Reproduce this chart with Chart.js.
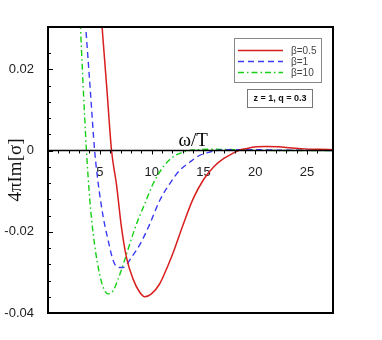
<!DOCTYPE html>
<html lang="en">
<head>
    <meta charset="UTF-8">
    <title>4πIm[σ] vs ω/T</title>
    <script src="https://cdn.jsdelivr.net/npm/chart.js"></script>
    <style>
        body { margin: 0; background: #fff; }
    </style>
</head>
<body>
    <canvas id="myChart" width="382" height="340"></canvas>

    <script>
        // values (omega/T, 4*pi*Im[sigma])
        const labels = ['β=0.5', 'β=1', 'β=10'];
        const colors = ['#d81f1f', '#3b3bf5', '#16d016'];

        const redW = [5.0, 5.23, 5.7, 6.13, 6.6, 7.09, 7.57, 8.2, 8.85, 9.34, 9.98, 10.78, 11.58, 12.2, 13.0, 14.0, 15.0, 16.0, 17.0, 17.7, 18.4, 19.2, 20.1, 21.0, 22.2, 23.3, 24.8, 26.2, 27.5];
        const redV = [0.0375, 0.030, 0.0145, 0, -0.0082, -0.0189, -0.0263, -0.0316, -0.0349, -0.0360, -0.0353, -0.0328, -0.0283, -0.0243, -0.0185, -0.0119, -0.0072, -0.0040, -0.0019, -0.0009, 0, 0.0005, 0.0009, 0.0010, 0.0009, 0.0007, 0.0004, 0.0003, 0.0002];

        const blueW = [3.4, 3.65, 4.05, 4.5, 4.85, 5.33, 5.81, 6.29, 6.77, 7.25, 8.05, 8.9, 9.82, 10.78, 11.74, 12.7, 13.67, 14.63, 15.6, 16.5, 18, 20, 22, 24, 27.5];
        const blueV = [0.039, 0.030, 0.016, 0, -0.0082, -0.0164, -0.0222, -0.0271, -0.0288, -0.0288, -0.0263, -0.0230, -0.0181, -0.0123, -0.0082, -0.0049, -0.0029, -0.0012, -0.0004, 0.0001, 0.0002, 0.0002, 0.0001, 0.0001, 0];

        const greenW = [3.0, 3.14, 3.39, 3.71, 4.04, 4.36, 4.85, 5.33, 5.81, 6.29, 6.77, 7.42, 7.89, 8.54, 9.34, 10.14, 11.1, 12.06, 13.03, 14.3, 16, 18, 20, 23, 27.5];
        const greenV = [0.038, 0.030, 0.016, 0, -0.0123, -0.0205, -0.0288, -0.0337, -0.0353, -0.0345, -0.0316, -0.0268, -0.0230, -0.0181, -0.0131, -0.0082, -0.0041, -0.0016, -0.0004, 0.0002, 0.0003, 0.0002, 0.0001, 0, 0];

        const noteText = 'z = 1, q = 0.3';
        const xTitle = 'ω/T';
        const yTitle = '4πIm[σ]';

        function pts(w, v) {
            return w.map((x, i) => ({ x: x, y: v[i] }));
        }

        // frame, inward ticks, zero line, x title, legend and note box
        const decorations = {
            id: 'decorations',
            afterDatasetsDraw(chart) {
                const ctx = chart.ctx;
                const a = chart.chartArea;
                const xs = chart.scales.x;
                const ys = chart.scales.y;
                const y0 = ys.getPixelForValue(0);
                ctx.save();
                ctx.strokeStyle = '#000';

                // y ticks (inside)
                ctx.lineWidth = 1;
                ys.ticks.forEach(t => {
                    if (t.value >= ys.max - 1e-9) return;
                    const p = Math.round(ys.getPixelForValue(t.value)) + 0.5;
                    const major = Math.abs(t.value / 0.02 - Math.round(t.value / 0.02)) < 1e-6;
                    ctx.beginPath();
                    ctx.moveTo(a.left, p);
                    ctx.lineTo(a.left + (major ? 5 : 3), p);
                    ctx.stroke();
                });
                // x ticks below zero line
                xs.ticks.forEach(t => {
                    if (t.value <= 0 || t.value >= xs.max - 1e-9) return;
                    const p = Math.round(xs.getPixelForValue(t.value)) + 0.5;
                    const major = t.value % 5 === 0;
                    ctx.beginPath();
                    ctx.moveTo(p, y0);
                    ctx.lineTo(p, y0 + (major ? 4 : 3));
                    ctx.stroke();
                });

                // zero line
                ctx.lineWidth = 1.5;
                ctx.beginPath();
                ctx.moveTo(a.left, y0);
                ctx.lineTo(a.right, y0);
                ctx.stroke();

                // frame
                ctx.lineWidth = 2;
                ctx.strokeRect(a.left, a.top, a.right - a.left, a.bottom - a.top);

                // x title above the zero line
                ctx.fillStyle = '#000';
                ctx.font = '19px "Liberation Serif"';
                ctx.textAlign = 'center';
                ctx.textBaseline = 'alphabetic';
                ctx.fillText(xTitle, xs.getPixelForValue(14), y0 - 5);

                // legend box
                const lx = a.right - 99, ly = a.top + 11, lw = 87, lh = 44;
                ctx.fillStyle = '#fff';
                ctx.fillRect(lx, ly, lw, lh);
                ctx.strokeStyle = '#888';
                ctx.lineWidth = 1;
                ctx.strokeRect(lx + 0.5, ly + 0.5, lw, lh);
                ctx.font = '10px "Liberation Sans"';
                ctx.textAlign = 'left';
                ctx.textBaseline = 'middle';
                chart.data.datasets.forEach((ds, i) => {
                    const yy = ly + 12.5 + i * 11;
                    ctx.strokeStyle = ds.borderColor;
                    ctx.lineWidth = 1.3;
                    ctx.setLineDash(ds.borderDash || []);
                    ctx.beginPath();
                    ctx.moveTo(lx + 4, yy);
                    ctx.lineTo(lx + 49, yy);
                    ctx.stroke();
                    ctx.setLineDash([]);
                    ctx.fillStyle = '#444';
                    ctx.fillText(ds.label, lx + 57, yy + 0.5);
                });

                // note box
                const nx = a.right - 86, ny = a.top + 62, nw = 65, nh = 18;
                ctx.strokeStyle = '#777';
                ctx.lineWidth = 1;
                ctx.strokeRect(nx + 0.5, ny + 0.5, nw, nh);
                ctx.fillStyle = '#111';
                ctx.font = 'bold 9px "Liberation Sans"';
                ctx.textAlign = 'center';
                ctx.fillText(noteText, nx + nw / 2 + 0.5, ny + nh / 2 + 1);
                ctx.restore();
            }
        };

        const ctx = document.getElementById('myChart').getContext('2d');
        const myChart = new Chart(ctx, {
            type: 'line',
            data: {
                datasets: [{
                    label: labels[0],
                    data: pts(redW, redV),
                    borderColor: colors[0],
                    borderWidth: 1.5
                }, {
                    label: labels[1],
                    data: pts(blueW, blueV),
                    borderColor: colors[1],
                    borderWidth: 1.4,
                    borderDash: [6, 4]
                }, {
                    label: labels[2],
                    data: pts(greenW, greenV),
                    borderColor: colors[2],
                    borderWidth: 1.4,
                    borderDash: [6, 3, 1.5, 3]
                }]
            },
            options: {
                responsive: false,
                animation: false,
                devicePixelRatio: 1,
                layout: { padding: { left: 0, top: 27, right: 49, bottom: 27 } },
                elements: {
                    point: { radius: 0 },
                    line: { cubicInterpolationMode: 'monotone', fill: false }
                },
                plugins: {
                    legend: { display: false },
                    tooltip: { enabled: false }
                },
                scales: {
                    x: {
                        type: 'linear',
                        position: { y: 0 },
                        min: 0,
                        max: 27.5,
                        grid: { display: false },
                        border: { display: false },
                        ticks: {
                            stepSize: 1,
                            autoSkip: false,
                            maxRotation: 0,
                            padding: 6,
                            color: '#222',
                            font: { family: 'Liberation Sans', size: 13 },
                            callback: v => (v > 0 && v % 5 === 0) ? String(v) : ''
                        }
                    },
                    y: {
                        min: -0.04,
                        max: 0.0304,
                        grid: { display: false },
                        border: { display: false },
                        afterFit: s => { s.width = 48; },
                        title: {
                            display: true,
                            text: yTitle,
                            color: '#111',
                            font: { family: 'Liberation Serif', size: 19 },
                            padding: { top: 5, bottom: 0 }
                        },
                        ticks: {
                            stepSize: 0.004,
                            autoSkip: false,
                            padding: 6,
                            color: '#222',
                            font: { family: 'Liberation Sans', size: 13 },
                            callback: v => {
                                if (Math.abs(v) < 1e-9) return '0';
                                const k = v / 0.02;
                                if (Math.abs(k - Math.round(k)) > 1e-6 || v > 0.025) return '';
                                return v.toFixed(2);
                            }
                        }
                    }
                }
            },
            plugins: [decorations]
        });
    </script>
</body>
</html>
